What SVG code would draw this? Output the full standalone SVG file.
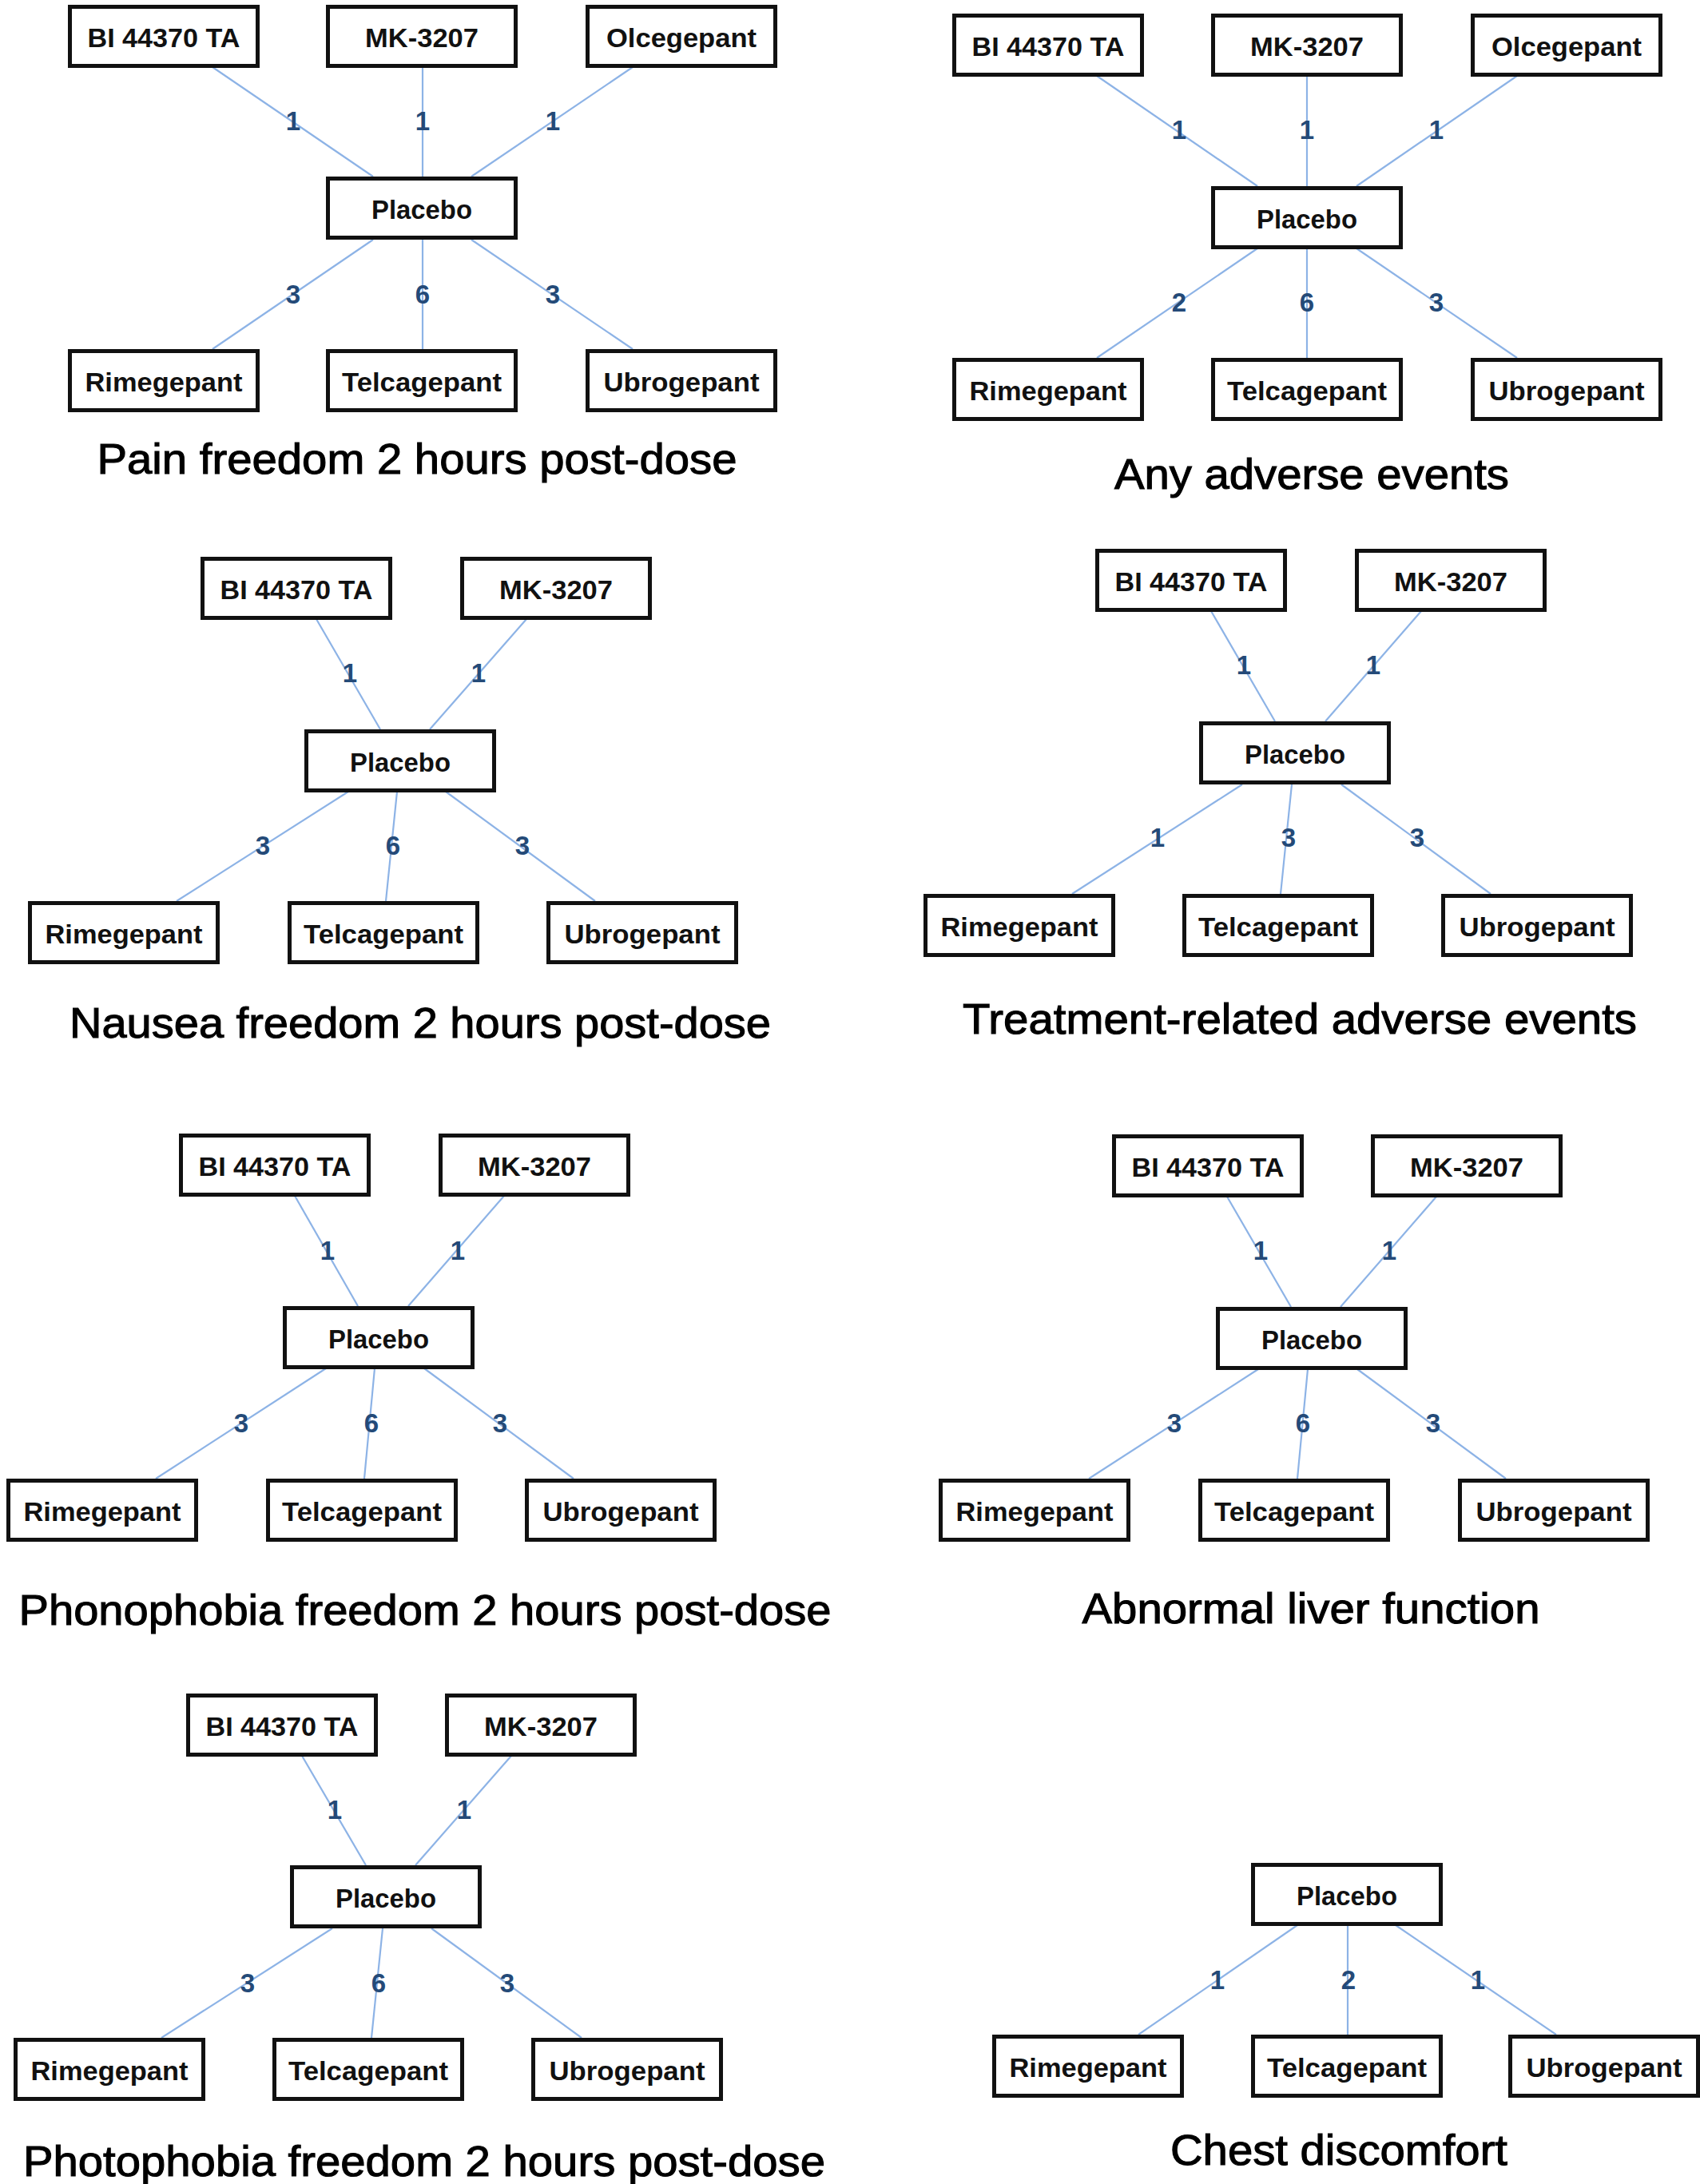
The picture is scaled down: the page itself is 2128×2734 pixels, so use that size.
<svg xmlns="http://www.w3.org/2000/svg" width="2128" height="2734" viewBox="0 0 2128 2734">
<style>
.bg{fill:#ffffff}
.box{fill:#ffffff;stroke:#111111;stroke-width:5}
.nt{font-family:"Liberation Sans",Arial,sans-serif;font-weight:bold;font-size:33px;fill:#111111;text-anchor:middle}
.e{stroke:#8db3e6;stroke-width:2.2;fill:none}
.el{font-family:"Liberation Sans",Arial,sans-serif;font-weight:bold;font-size:33px;fill:#244a78;text-anchor:middle}
.ti{font-family:"Liberation Sans",Arial,sans-serif;font-size:54px;fill:#000000;stroke:#000000;stroke-width:1.1;text-anchor:middle}
</style>
<defs>
<rect id="b" x="2.5" y="2.5" width="235" height="74" class="box"/>
</defs>
<rect class="bg" x="0" y="0" width="2128" height="2734"/>

<g id="connectors">
<!-- Panel 1 -->
<line class="e" x1="266" y1="84" x2="467" y2="221"/>
<line class="e" x1="529" y1="84" x2="529" y2="221"/>
<line class="e" x1="792" y1="84" x2="590" y2="221"/>
<line class="e" x1="467" y1="300" x2="266" y2="437"/>
<line class="e" x1="529" y1="300" x2="529" y2="437"/>
<line class="e" x1="590" y1="300" x2="792" y2="437"/>
<!-- Panel 2 -->
<line class="e" x1="1373" y1="95" x2="1574" y2="233"/>
<line class="e" x1="1636" y1="95" x2="1636" y2="233"/>
<line class="e" x1="1899" y1="95" x2="1698" y2="233"/>
<line class="e" x1="1574" y1="311" x2="1373" y2="448"/>
<line class="e" x1="1636" y1="311" x2="1636" y2="448"/>
<line class="e" x1="1698" y1="311" x2="1899" y2="448"/>
<!-- Panel 3 -->
<line class="e" x1="396" y1="775" x2="476" y2="913"/>
<line class="e" x1="659" y1="775" x2="538" y2="913"/>
<line class="e" x1="436" y1="991" x2="221" y2="1128"/>
<line class="e" x1="497" y1="991" x2="483" y2="1128"/>
<line class="e" x1="558" y1="991" x2="745" y2="1128"/>
<!-- Panel 4 -->
<line class="e" x1="1516" y1="765" x2="1596" y2="903"/>
<line class="e" x1="1779" y1="765" x2="1659" y2="903"/>
<line class="e" x1="1555" y1="982" x2="1342" y2="1119"/>
<line class="e" x1="1617" y1="982" x2="1603" y2="1119"/>
<line class="e" x1="1679" y1="982" x2="1866" y2="1119"/>
<!-- Panel 5 -->
<line class="e" x1="369" y1="1497" x2="448" y2="1635"/>
<line class="e" x1="631" y1="1497" x2="511" y2="1635"/>
<line class="e" x1="408" y1="1713" x2="195" y2="1851"/>
<line class="e" x1="469" y1="1713" x2="456" y2="1851"/>
<line class="e" x1="531" y1="1713" x2="718" y2="1851"/>
<!-- Panel 6 -->
<line class="e" x1="1536" y1="1498" x2="1616" y2="1636"/>
<line class="e" x1="1798" y1="1498" x2="1678" y2="1636"/>
<line class="e" x1="1575" y1="1714" x2="1363" y2="1851"/>
<line class="e" x1="1637" y1="1714" x2="1624" y2="1851"/>
<line class="e" x1="1699" y1="1714" x2="1885" y2="1851"/>
<!-- Panel 7 -->
<line class="e" x1="378" y1="2198" x2="458" y2="2335"/>
<line class="e" x1="640" y1="2198" x2="520" y2="2335"/>
<line class="e" x1="416" y1="2414" x2="202" y2="2551"/>
<line class="e" x1="479" y1="2414" x2="465" y2="2551"/>
<line class="e" x1="540" y1="2414" x2="728" y2="2551"/>
<!-- Panel 8 -->
<line class="e" x1="1624" y1="2410" x2="1425" y2="2547"/>
<line class="e" x1="1687" y1="2410" x2="1687" y2="2547"/>
<line class="e" x1="1747" y1="2410" x2="1948" y2="2547"/>
</g>

<g id="edge-labels">
<text class="el" x="367" y="163">1</text>
<text class="el" x="529" y="163">1</text>
<text class="el" x="692" y="163">1</text>
<text class="el" x="367" y="380">3</text>
<text class="el" x="529" y="380">6</text>
<text class="el" x="692" y="380">3</text>

<text class="el" x="1476" y="174">1</text>
<text class="el" x="1636" y="174">1</text>
<text class="el" x="1798" y="174">1</text>
<text class="el" x="1476" y="390">2</text>
<text class="el" x="1636" y="390">6</text>
<text class="el" x="1798" y="390">3</text>

<text class="el" x="438" y="854">1</text>
<text class="el" x="599" y="854">1</text>
<text class="el" x="329" y="1070">3</text>
<text class="el" x="492" y="1070">6</text>
<text class="el" x="654" y="1070">3</text>

<text class="el" x="1557" y="844">1</text>
<text class="el" x="1719" y="844">1</text>
<text class="el" x="1449" y="1060">1</text>
<text class="el" x="1613" y="1060">3</text>
<text class="el" x="1774" y="1060">3</text>

<text class="el" x="410" y="1577">1</text>
<text class="el" x="573" y="1577">1</text>
<text class="el" x="302" y="1793">3</text>
<text class="el" x="465" y="1793">6</text>
<text class="el" x="626" y="1793">3</text>

<text class="el" x="1578" y="1577">1</text>
<text class="el" x="1739" y="1577">1</text>
<text class="el" x="1470" y="1793">3</text>
<text class="el" x="1631" y="1793">6</text>
<text class="el" x="1794" y="1793">3</text>

<text class="el" x="419" y="2277">1</text>
<text class="el" x="581" y="2277">1</text>
<text class="el" x="310" y="2494">3</text>
<text class="el" x="474" y="2494">6</text>
<text class="el" x="635" y="2494">3</text>

<text class="el" x="1524" y="2490">1</text>
<text class="el" x="1688" y="2490">2</text>
<text class="el" x="1850" y="2490">1</text>
</g>

<!-- Panel 1 nodes -->
<g id="p1-bi" transform="translate(85,6)"><use href="#b"/><text class="nt" x="120" y="53" textLength="191" lengthAdjust="spacingAndGlyphs">BI 44370 TA</text></g>
<g id="p1-mk" transform="translate(408,6)"><use href="#b"/><text class="nt" x="120" y="53" textLength="142" lengthAdjust="spacingAndGlyphs">MK-3207</text></g>
<g id="p1-olc" transform="translate(733,6)"><use href="#b"/><text class="nt" x="120" y="53" textLength="188" lengthAdjust="spacingAndGlyphs">Olcegepant</text></g>
<g id="p1-pla" transform="translate(408,221)"><use href="#b"/><text class="nt" x="120" y="53" textLength="126" lengthAdjust="spacingAndGlyphs">Placebo</text></g>
<g id="p1-rim" transform="translate(85,437)"><use href="#b"/><text class="nt" x="120" y="53" textLength="197" lengthAdjust="spacingAndGlyphs">Rimegepant</text></g>
<g id="p1-tel" transform="translate(408,437)"><use href="#b"/><text class="nt" x="120" y="53" textLength="200" lengthAdjust="spacingAndGlyphs">Telcagepant</text></g>
<g id="p1-ubr" transform="translate(733,437)"><use href="#b"/><text class="nt" x="120" y="53" textLength="195" lengthAdjust="spacingAndGlyphs">Ubrogepant</text></g>
<text id="t1" class="ti" x="522" y="593" textLength="801" lengthAdjust="spacingAndGlyphs">Pain freedom 2 hours post-dose</text>

<!-- Panel 2 nodes -->
<g id="p2-bi" transform="translate(1192,17)"><use href="#b"/><text class="nt" x="120" y="53" textLength="191" lengthAdjust="spacingAndGlyphs">BI 44370 TA</text></g>
<g id="p2-mk" transform="translate(1516,17)"><use href="#b"/><text class="nt" x="120" y="53" textLength="142" lengthAdjust="spacingAndGlyphs">MK-3207</text></g>
<g id="p2-olc" transform="translate(1841,17)"><use href="#b"/><text class="nt" x="120" y="53" textLength="188" lengthAdjust="spacingAndGlyphs">Olcegepant</text></g>
<g id="p2-pla" transform="translate(1516,233)"><use href="#b"/><text class="nt" x="120" y="53" textLength="126" lengthAdjust="spacingAndGlyphs">Placebo</text></g>
<g id="p2-rim" transform="translate(1192,448)"><use href="#b"/><text class="nt" x="120" y="53" textLength="197" lengthAdjust="spacingAndGlyphs">Rimegepant</text></g>
<g id="p2-tel" transform="translate(1516,448)"><use href="#b"/><text class="nt" x="120" y="53" textLength="200" lengthAdjust="spacingAndGlyphs">Telcagepant</text></g>
<g id="p2-ubr" transform="translate(1841,448)"><use href="#b"/><text class="nt" x="120" y="53" textLength="195" lengthAdjust="spacingAndGlyphs">Ubrogepant</text></g>
<text id="t2" class="ti" x="1642" y="612" textLength="494" lengthAdjust="spacingAndGlyphs">Any adverse events</text>

<!-- Panel 3 nodes -->
<g id="p3-bi" transform="translate(251,697)"><use href="#b"/><text class="nt" x="120" y="53" textLength="191" lengthAdjust="spacingAndGlyphs">BI 44370 TA</text></g>
<g id="p3-mk" transform="translate(576,697)"><use href="#b"/><text class="nt" x="120" y="53" textLength="142" lengthAdjust="spacingAndGlyphs">MK-3207</text></g>
<g id="p3-pla" transform="translate(381,913)"><use href="#b"/><text class="nt" x="120" y="53" textLength="126" lengthAdjust="spacingAndGlyphs">Placebo</text></g>
<g id="p3-rim" transform="translate(35,1128)"><use href="#b"/><text class="nt" x="120" y="53" textLength="197" lengthAdjust="spacingAndGlyphs">Rimegepant</text></g>
<g id="p3-tel" transform="translate(360,1128)"><use href="#b"/><text class="nt" x="120" y="53" textLength="200" lengthAdjust="spacingAndGlyphs">Telcagepant</text></g>
<g id="p3-ubr" transform="translate(684,1128)"><use href="#b"/><text class="nt" x="120" y="53" textLength="195" lengthAdjust="spacingAndGlyphs">Ubrogepant</text></g>
<text id="t3" class="ti" x="526" y="1299" textLength="878" lengthAdjust="spacingAndGlyphs">Nausea freedom 2 hours post-dose</text>

<!-- Panel 4 nodes -->
<g id="p4-bi" transform="translate(1371,687)"><use href="#b"/><text class="nt" x="120" y="53" textLength="191" lengthAdjust="spacingAndGlyphs">BI 44370 TA</text></g>
<g id="p4-mk" transform="translate(1696,687)"><use href="#b"/><text class="nt" x="120" y="53" textLength="142" lengthAdjust="spacingAndGlyphs">MK-3207</text></g>
<g id="p4-pla" transform="translate(1501,903)"><use href="#b"/><text class="nt" x="120" y="53" textLength="126" lengthAdjust="spacingAndGlyphs">Placebo</text></g>
<g id="p4-rim" transform="translate(1156,1119)"><use href="#b"/><text class="nt" x="120" y="53" textLength="197" lengthAdjust="spacingAndGlyphs">Rimegepant</text></g>
<g id="p4-tel" transform="translate(1480,1119)"><use href="#b"/><text class="nt" x="120" y="53" textLength="200" lengthAdjust="spacingAndGlyphs">Telcagepant</text></g>
<g id="p4-ubr" transform="translate(1804,1119)"><use href="#b"/><text class="nt" x="120" y="53" textLength="195" lengthAdjust="spacingAndGlyphs">Ubrogepant</text></g>
<text id="t4" class="ti" x="1627" y="1294" textLength="844" lengthAdjust="spacingAndGlyphs">Treatment-related adverse events</text>

<!-- Panel 5 nodes -->
<g id="p5-bi" transform="translate(224,1419)"><use href="#b"/><text class="nt" x="120" y="53" textLength="191" lengthAdjust="spacingAndGlyphs">BI 44370 TA</text></g>
<g id="p5-mk" transform="translate(549,1419)"><use href="#b"/><text class="nt" x="120" y="53" textLength="142" lengthAdjust="spacingAndGlyphs">MK-3207</text></g>
<g id="p5-pla" transform="translate(354,1635)"><use href="#b"/><text class="nt" x="120" y="53" textLength="126" lengthAdjust="spacingAndGlyphs">Placebo</text></g>
<g id="p5-rim" transform="translate(8,1851)"><use href="#b"/><text class="nt" x="120" y="53" textLength="197" lengthAdjust="spacingAndGlyphs">Rimegepant</text></g>
<g id="p5-tel" transform="translate(333,1851)"><use href="#b"/><text class="nt" x="120" y="53" textLength="200" lengthAdjust="spacingAndGlyphs">Telcagepant</text></g>
<g id="p5-ubr" transform="translate(657,1851)"><use href="#b"/><text class="nt" x="120" y="53" textLength="195" lengthAdjust="spacingAndGlyphs">Ubrogepant</text></g>
<text id="t5" class="ti" x="532" y="2034" textLength="1017" lengthAdjust="spacingAndGlyphs">Phonophobia freedom 2 hours post-dose</text>

<!-- Panel 6 nodes -->
<g id="p6-bi" transform="translate(1392,1420)"><use href="#b"/><text class="nt" x="120" y="53" textLength="191" lengthAdjust="spacingAndGlyphs">BI 44370 TA</text></g>
<g id="p6-mk" transform="translate(1716,1420)"><use href="#b"/><text class="nt" x="120" y="53" textLength="142" lengthAdjust="spacingAndGlyphs">MK-3207</text></g>
<g id="p6-pla" transform="translate(1522,1636)"><use href="#b"/><text class="nt" x="120" y="53" textLength="126" lengthAdjust="spacingAndGlyphs">Placebo</text></g>
<g id="p6-rim" transform="translate(1175,1851)"><use href="#b"/><text class="nt" x="120" y="53" textLength="197" lengthAdjust="spacingAndGlyphs">Rimegepant</text></g>
<g id="p6-tel" transform="translate(1500,1851)"><use href="#b"/><text class="nt" x="120" y="53" textLength="200" lengthAdjust="spacingAndGlyphs">Telcagepant</text></g>
<g id="p6-ubr" transform="translate(1825,1851)"><use href="#b"/><text class="nt" x="120" y="53" textLength="195" lengthAdjust="spacingAndGlyphs">Ubrogepant</text></g>
<text id="t6" class="ti" x="1641" y="2032" textLength="573" lengthAdjust="spacingAndGlyphs">Abnormal liver function</text>

<!-- Panel 7 nodes -->
<g id="p7-bi" transform="translate(233,2120)"><use href="#b"/><text class="nt" x="120" y="53" textLength="191" lengthAdjust="spacingAndGlyphs">BI 44370 TA</text></g>
<g id="p7-mk" transform="translate(557,2120)"><use href="#b"/><text class="nt" x="120" y="53" textLength="142" lengthAdjust="spacingAndGlyphs">MK-3207</text></g>
<g id="p7-pla" transform="translate(363,2335)"><use href="#b"/><text class="nt" x="120" y="53" textLength="126" lengthAdjust="spacingAndGlyphs">Placebo</text></g>
<g id="p7-rim" transform="translate(17,2551)"><use href="#b"/><text class="nt" x="120" y="53" textLength="197" lengthAdjust="spacingAndGlyphs">Rimegepant</text></g>
<g id="p7-tel" transform="translate(341,2551)"><use href="#b"/><text class="nt" x="120" y="53" textLength="200" lengthAdjust="spacingAndGlyphs">Telcagepant</text></g>
<g id="p7-ubr" transform="translate(665,2551)"><use href="#b"/><text class="nt" x="120" y="53" textLength="195" lengthAdjust="spacingAndGlyphs">Ubrogepant</text></g>
<text id="t7" class="ti" x="531" y="2724" textLength="1004" lengthAdjust="spacingAndGlyphs">Photophobia freedom 2 hours post-dose</text>

<!-- Panel 8 nodes -->
<g id="p8-pla" transform="translate(1566,2332)"><use href="#b"/><text class="nt" x="120" y="53" textLength="126" lengthAdjust="spacingAndGlyphs">Placebo</text></g>
<g id="p8-rim" transform="translate(1242,2547)"><use href="#b"/><text class="nt" x="120" y="53" textLength="197" lengthAdjust="spacingAndGlyphs">Rimegepant</text></g>
<g id="p8-tel" transform="translate(1566,2547)"><use href="#b"/><text class="nt" x="120" y="53" textLength="200" lengthAdjust="spacingAndGlyphs">Telcagepant</text></g>
<g id="p8-ubr" transform="translate(1888,2547)"><use href="#b"/><text class="nt" x="120" y="53" textLength="195" lengthAdjust="spacingAndGlyphs">Ubrogepant</text></g>
<text id="t8" class="ti" x="1676" y="2710" textLength="422" lengthAdjust="spacingAndGlyphs">Chest discomfort</text>
</svg>
